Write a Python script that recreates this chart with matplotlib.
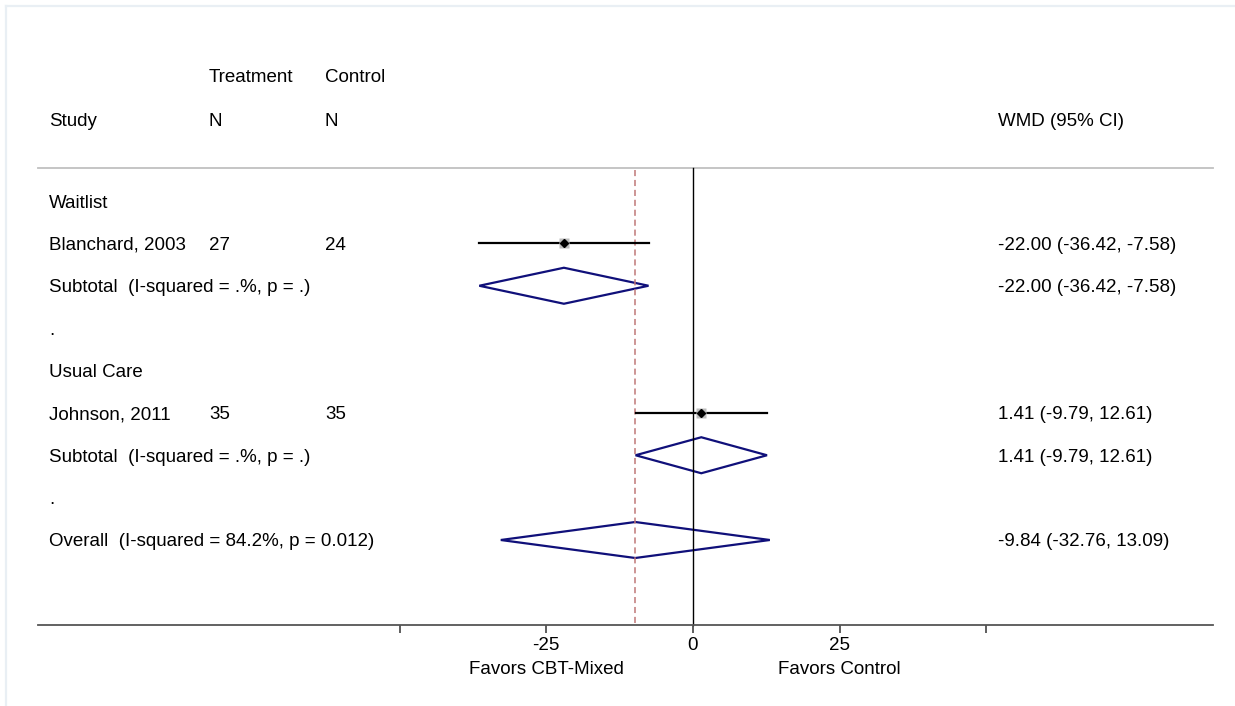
import matplotlib
matplotlib.use("Agg")
import matplotlib.pyplot as plt
from matplotlib.lines import Line2D

plt.rcParams['font.family'] = ['Liberation Sans', 'DejaVu Sans']

# data
row_labels = ['Waitlist', 'Blanchard, 2003', 'Subtotal  (I-squared = .%, p = .)', '.',
              'Usual Care', 'Johnson, 2011', 'Subtotal  (I-squared = .%, p = .)', '.',
              'Overall  (I-squared = 84.2%, p = 0.012)']
study_rows = [1, 5]
study_n_treat = ['27', '35']
study_n_ctrl = ['24', '35']
study_est = [-22.00, 1.41]
study_lo = [-36.42, -9.79]
study_hi = [-7.58, 12.61]
subtotal_rows = [2, 6]
subtotal_est = [-22.00, 1.41]
subtotal_lo = [-36.42, -9.79]
subtotal_hi = [-7.58, 12.61]
overall_row = 8
overall_est = -9.84
overall_lo = -32.76
overall_hi = 13.09
tick_values = [-50, -25, 0, 25, 50]
tick_labels = ['', '-25', '0', '25', '']


def fmt(e, lo, hi):
    return f'{e:.2f} ({lo:.2f}, {hi:.2f})'


W, H = 1235, 706
fig = plt.figure(figsize=(W / 100, H / 100), dpi=100)
ax = fig.add_axes([0, 0, 1, 1])

# pixel layout helpers
x_zero, px_unit = 693.0, 5.868
row0, row_step = 201.0, 42.375


def xd(px):
    return (px - x_zero) / px_unit


def yd(px):
    return (px - row0) / row_step


ax.set_xlim(xd(0), xd(W))
ax.set_ylim(yd(H), yd(0))
for s in ['top', 'left', 'right']:
    ax.spines[s].set_visible(False)
ax.set_yticks([])

fs = 13.5
va = 'center_baseline'

# bottom axis
axis_y = yd(625)
ax.spines['bottom'].set_position(('data', axis_y))
ax.spines['bottom'].set_bounds(xd(38), xd(1213))
ax.spines['bottom'].set_color('#555555')
ax.spines['bottom'].set_linewidth(1.3)
ax.set_xticks(tick_values)
ax.set_xticklabels(tick_labels)
ax.tick_params(axis='x', direction='out', length=6, width=1.1, color='#333333',
               pad=3, labelsize=fs)
ax.text(-25, yd(668), 'Favors CBT-Mixed', ha='center', va=va, fontsize=fs)
ax.text(25, yd(668), 'Favors Control', ha='center', va=va, fontsize=fs)

# header
ax.text(xd(209), yd(75), 'Treatment', va=va, fontsize=fs)
ax.text(xd(325), yd(75), 'Control', va=va, fontsize=fs)
ax.text(xd(49), yd(119), 'Study', va=va, fontsize=fs)
ax.text(xd(209), yd(119), 'N', va=va, fontsize=fs)
ax.text(xd(325), yd(119), 'N', va=va, fontsize=fs)
ax.text(xd(998), yd(119), 'WMD (95% CI)', va=va, fontsize=fs)
ax.plot([xd(38), xd(1213)], [yd(168), yd(168)], color='#c0c0c0', lw=1.3)

# reference lines
ax.plot([0, 0], [yd(168), axis_y], color='black', lw=1.0)
ax.plot([overall_est, overall_est], [yd(170), axis_y], color='#c07878', lw=1.1,
        dashes=(4, 2.5))

# row labels
for i, lab in enumerate(row_labels):
    ax.text(xd(49), i, lab, va=va, fontsize=fs)

# studies
for r, nt, nc, e, lo, hi in zip(study_rows, study_n_treat, study_n_ctrl,
                                study_est, study_lo, study_hi):
    ax.text(xd(209), r, nt, va=va, fontsize=fs)
    ax.text(xd(325), r, nc, va=va, fontsize=fs)
    ax.plot([lo, hi], [r, r], color='black', lw=1.6, zorder=2)
    ax.plot(e, r, marker='s', ms=6.5, color='#bdbdbd', mec='none', zorder=3)
    ax.plot(e, r, marker='D', ms=4, color='black', zorder=4)
    ax.text(xd(998), r, fmt(e, lo, hi), va=va, fontsize=fs)

# diamonds
half_h = 18 / row_step
navy = '#10107a'
for r, e, lo, hi in zip(subtotal_rows, subtotal_est, subtotal_lo, subtotal_hi):
    ax.fill([lo, e, hi, e, lo], [r, r - half_h, r, r + half_h, r], facecolor='none',
            edgecolor=navy, lw=1.6)
    ax.text(xd(998), r, fmt(e, lo, hi), va=va, fontsize=fs)
ax.fill([overall_lo, overall_est, overall_hi, overall_est, overall_lo],
        [overall_row, overall_row - half_h, overall_row, overall_row + half_h, overall_row],
        facecolor='none', edgecolor=navy, lw=1.6)
ax.text(xd(998), overall_row, fmt(overall_est, overall_lo, overall_hi), va=va,
        fontsize=fs)

# light frame
frame = '#e9eff4'
fig.add_artist(Line2D([6 / W, 1], [1 - 6 / H, 1 - 6 / H], color=frame, lw=1.6))
fig.add_artist(Line2D([6 / W, 6 / W], [0, 1 - 6 / H], color=frame, lw=1.6))

fig.savefig('out.png', dpi=100)
